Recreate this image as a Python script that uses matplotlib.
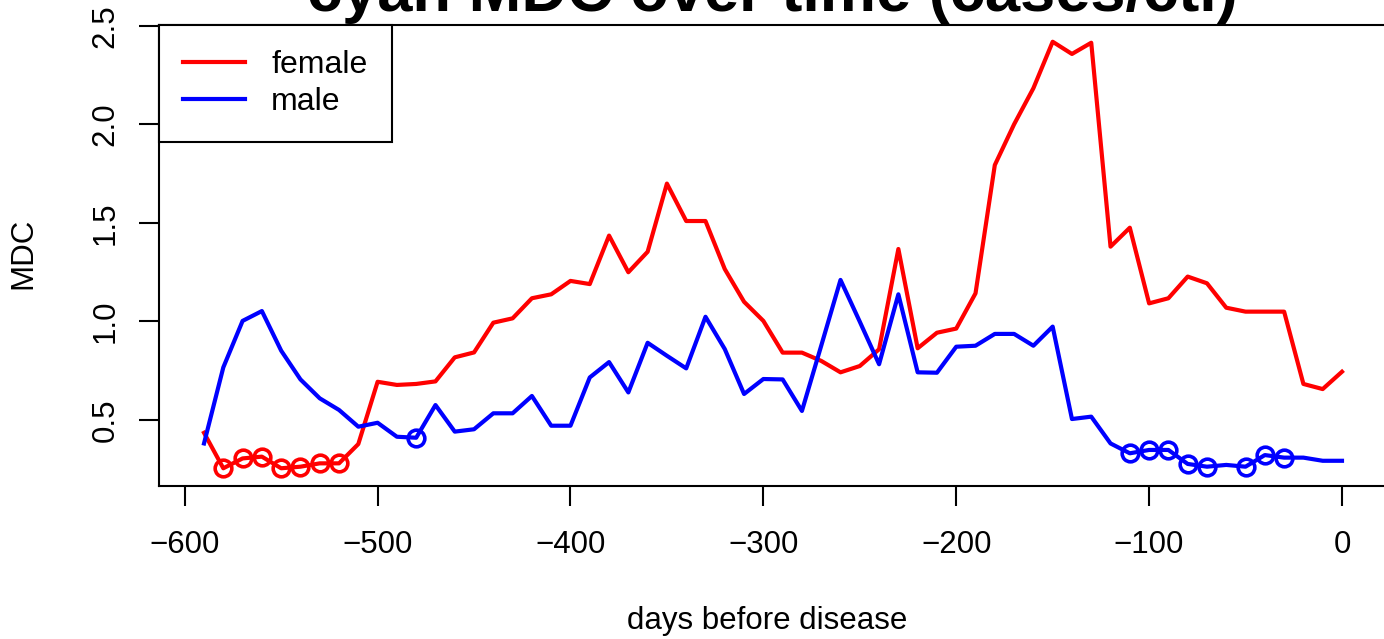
import matplotlib
matplotlib.use("Agg")
import matplotlib.pyplot as plt

plt.rcParams['font.family'] = ['Liberation Sans', 'DejaVu Sans']

# days before disease, every 10 days
days = list(range(-590, 10, 10))

female = [0.435, 0.255, 0.305, 0.314, 0.255, 0.263, 0.280, 0.280, 0.378, 0.694,
          0.678, 0.683, 0.696, 0.818, 0.843, 0.994, 1.016, 1.118, 1.138, 1.206,
          1.190, 1.436, 1.250, 1.354, 1.700, 1.510, 1.510, 1.266, 1.100, 1.003,
          0.842, 0.842, 0.800, 0.742, 0.774, 0.859, 1.368, 0.864, 0.943, 0.964,
          1.143, 1.794, 2.001, 2.184, 2.420, 2.358, 2.415, 1.380, 1.476, 1.092,
          1.118, 1.228, 1.194, 1.070, 1.050, 1.050, 1.050, 0.683, 0.657, 0.745]

male = [0.381, 0.767, 1.003, 1.053, 0.852, 0.706, 0.610, 0.551, 0.466, 0.486,
        0.415, 0.410, 0.576, 0.441, 0.453, 0.534, 0.534, 0.622, 0.471, 0.471,
        0.716, 0.794, 0.640, 0.892, 0.826, 0.762, 1.024, 0.860, 0.632, 0.708,
        0.706, 0.546, 0.877, 1.211, 0.999, 0.783, 1.138, 0.742, 0.740, 0.872,
        0.877, 0.937, 0.937, 0.877, 0.974, 0.505, 0.517, 0.381, 0.331, 0.348,
        0.348, 0.277, 0.263, 0.272, 0.263, 0.322, 0.309, 0.309, 0.293, 0.293]

# days marked with a circle
female_marked = [-580, -570, -560, -550, -540, -530, -520]
male_marked = [-480, -110, -100, -90, -80, -70, -50, -40, -30]

W, H = 1384, 639
fig = plt.figure(figsize=(W / 100, H / 100), dpi=100)
ax = fig.add_axes([158.5 / W, 1 - 486 / H, 1229 / W, (486 - 25) / H])

ax.plot(days, female, color='#ff0000', lw=3, label='female')
ax.plot(days, male, color='#0000ff', lw=3, label='male')

fm = [female[days.index(d)] for d in female_marked]
mm = [male[days.index(d)] for d in male_marked]
ax.plot(female_marked, fm, ls='none', marker='o', ms=12, mfc='none',
        mec='#ff0000', mew=2.6)
ax.plot(male_marked, mm, ls='none', marker='o', ms=12, mfc='none',
        mec='#0000ff', mew=2.6)

ax.set_xlim(-613.6, 23.6)
ax.set_ylim(0.165, 2.505)
ax.set_xticks([-600, -500, -400, -300, -200, -100, 0])
ax.set_xticklabels(['\u2212600', '\u2212500', '\u2212400', '\u2212300',
                    '\u2212200', '\u2212100', '0'])
ax.set_yticks([0.5, 1.0, 1.5, 2.0, 2.5])
ax.set_yticklabels(['0.5', '1.0', '1.5', '2.0', '2.5'])

for s in ax.spines.values():
    s.set_linewidth(1.5)
ax.tick_params(axis='both', direction='out', length=14.4, width=1.5,
               labelsize=22.5)
ax.tick_params(axis='x', pad=17)
ax.tick_params(axis='y', pad=13, labelrotation=90)
for lab in ax.get_yticklabels():
    lab.set_va('center')

leg = ax.legend(loc='upper left', bbox_to_anchor=(0, 1), borderaxespad=0,
                fontsize=23, frameon=True, fancybox=False, framealpha=1,
                edgecolor='black', handlelength=1.94, handletextpad=0.81,
                borderpad=0.78, labelspacing=0.23)
leg.get_frame().set_linewidth(1.5)

fig.text(772 / W, 1 - 11 / H, 'cyan MDC over time (cases/ctl)',
         ha='center', va='baseline', fontsize=45.5, fontweight='bold')
fig.text(767 / W, 1 - 629 / H, 'days before disease', ha='center',
         va='baseline', fontsize=22.5)
fig.text(23 / W, 1 - 253 / H, 'MDC', ha='center', va='center',
         rotation=90, fontsize=22.5)

fig.savefig('out.png', dpi=100)
